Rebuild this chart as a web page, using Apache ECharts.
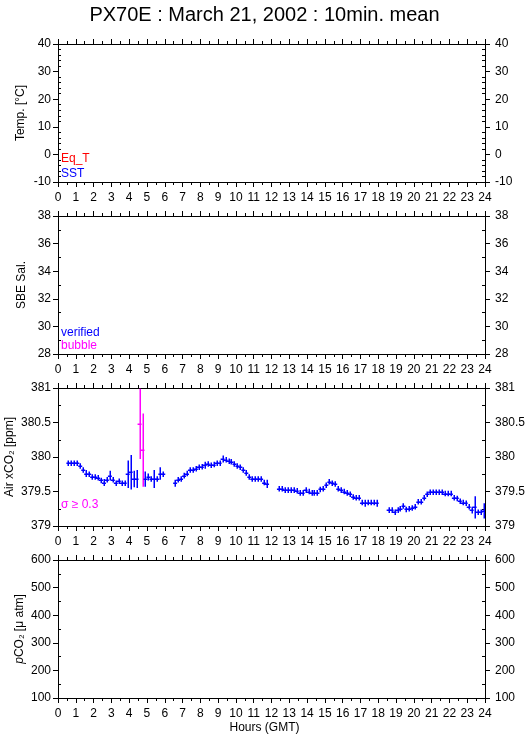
<!DOCTYPE html>
<html><head><meta charset="utf-8">
<script src="https://cdn.jsdelivr.net/npm/echarts@6/dist/echarts.min.js"></script>
<style>html,body{margin:0;padding:0;background:#fff}#c{width:529px;height:739px}</style>
</head><body><div id="c"></div>
<script>
// ---- data ----
const titleText = 'PX70E : March 21, 2002 : 10min. mean';
const xTicks = { min: 0, max: 24, interval: 1 };
const tempTicks = { min: -10, max: 40, interval: 10, minor: 5 };
const salTicks = { min: 28, max: 38, interval: 2, minor: 2 };
const xco2Ticks = { min: 379, max: 381, interval: 0.5, minor: 2 };
const pco2Ticks = { min: 100, max: 600, interval: 100, minor: 2 };

// 10-minute mean times (minutes GMT, interval centres)
const timesMin = [
  35,45,55,65,75,85,95,105,115,125,135,145,155,165,175,185,195,205,215,225,235,245,255,265,275,285,295,305,315,325,335,345,355,
  395,405,415,425,435,445,455,465,475,485,495,505,515,525,535,545,555,565,575,585,595,605,615,625,635,645,655,665,675,685,695,705,
  745,755,765,775,785,795,805,815,825,835,845,855,865,875,885,895,905,915,925,935,945,955,965,975,985,995,1005,1015,1025,1035,1045,1055,1065,1075,
  1115,1125,1135,1145,1155,1165,1175,1185,1195,1205,1215,1225,1235,1245,1255,1265,1275,1285,1295,1305,1315,1325,1335,1345,1355,1365,1375,1385,1395,1405,1415,1425,1435
];
// Air xCO2 [ppm]
const airXco2 = [
  379.91,379.91,379.91,379.91,379.87,379.81,379.76,379.75,379.71,379.71,379.70,379.66,379.63,379.67,379.73,379.67,379.62,379.65,379.62,379.62,379.75,379.78,379.68,379.68,380.48,380.10,379.68,379.71,379.68,379.68,379.68,379.76,379.75,
  379.62,379.67,379.68,379.73,379.76,379.81,379.81,379.83,379.85,379.86,379.88,379.90,379.88,379.89,379.91,379.91,379.97,379.96,379.94,379.93,379.90,379.87,379.85,379.81,379.77,379.71,379.68,379.68,379.68,379.68,379.63,379.61,
  379.54,379.54,379.52,379.52,379.52,379.52,379.51,379.48,379.48,379.52,379.50,379.48,379.48,379.48,379.53,379.54,379.59,379.64,379.62,379.61,379.54,379.52,379.50,379.48,379.46,379.42,379.41,379.41,379.34,379.33,379.34,379.34,379.34,379.33,
  379.23,379.23,379.20,379.23,379.25,379.29,379.24,379.25,379.26,379.28,379.35,379.35,379.41,379.46,379.49,379.49,379.49,379.49,379.49,379.47,379.47,379.47,379.41,379.40,379.36,379.34,379.33,379.28,379.23,379.27,379.20,379.20,379.22
];
// standard deviation [ppm]
const airSigma = [
  0.04,0.04,0.04,0.04,0.04,0.04,0.05,0.04,0.04,0.04,0.04,0.04,0.05,0.04,0.07,0.04,0.04,0.04,0.04,0.04,0.20,0.25,0.12,0.13,0.51,0.53,0.11,0.05,0.04,0.13,0.04,0.09,0.04,
  0.05,0.04,0.04,0.04,0.04,0.04,0.04,0.04,0.04,0.04,0.05,0.04,0.04,0.04,0.04,0.04,0.05,0.04,0.04,0.04,0.04,0.04,0.04,0.04,0.04,0.04,0.04,0.04,0.04,0.04,0.04,0.06,
  0.04,0.04,0.04,0.04,0.04,0.04,0.04,0.04,0.04,0.04,0.04,0.04,0.04,0.04,0.04,0.04,0.04,0.04,0.04,0.04,0.04,0.04,0.04,0.04,0.04,0.04,0.04,0.04,0.04,0.05,0.04,0.04,0.04,0.05,
  0.04,0.04,0.04,0.04,0.04,0.04,0.04,0.04,0.04,0.04,0.04,0.04,0.04,0.04,0.04,0.04,0.04,0.04,0.04,0.04,0.04,0.04,0.04,0.04,0.04,0.04,0.04,0.04,0.05,0.16,0.04,0.04,0.11
];
const sigmaLimit = 0.3;

// ---- chart ----
const FONT = '"Liberation Sans", Helvetica, Arial, sans-serif';
const panelTops = [44, 216, 388, 560];
const panelH = 138;
const panels = [
  { t: tempTicks, name: 'Temp. [°C]', gap: 31 },
  { t: salTicks, name: 'SBE Sal.', gap: 30 },
  { t: xco2Ticks, name: 'Air xCO₂ [ppm]', gap: 42 },
  { t: pco2Ticks, name: '{i|p}CO₂ [μ atm]', gap: 32 }
];
const lineStyle = { color: '#000', width: 1 };
const grids = [], xAxes = [], yAxes = [];
panels.forEach((p, i) => {
  grids.push({ left: 58, right: 44, top: panelTops[i], height: panelH, outerBoundsMode: 'none', containLabel: false });
  ['bottom', 'top'].forEach(pos => {
    xAxes.push({
      type: 'value', gridIndex: i, position: pos, min: xTicks.min, max: xTicks.max, interval: xTicks.interval,
      axisLine: { show: true, onZero: false, lineStyle },
      axisTick: { show: true, length: 5, inside: false, lineStyle },
      minorTick: { show: true, splitNumber: 2, length: 3, lineStyle },
      axisLabel: { show: pos === 'bottom', margin: 10, color: '#000', fontSize: 12, fontFamily: FONT },
      splitLine: { show: false }, minorSplitLine: { show: false }
    });
  });
  ['left', 'right'].forEach(pos => {
    yAxes.push({
      type: 'value', gridIndex: i, position: pos, min: p.t.min, max: p.t.max, interval: p.t.interval,
      name: pos === 'left' ? p.name : '', nameLocation: 'middle', nameGap: p.gap, nameRotate: 90,
      nameMoveOverlap: false,
      nameTextStyle: { color: '#000', fontSize: 12, fontFamily: FONT, rich: { i: { fontStyle: 'italic', fontSize: 12, fontFamily: FONT } } },
      axisLine: { show: true, onZero: false, lineStyle },
      axisTick: { show: true, length: 5, inside: false, lineStyle },
      axisLabel: { show: true, margin: pos === 'left' ? 7 : 10, color: '#000', fontSize: 12, fontFamily: FONT },
      splitLine: { show: false }
    });
    yAxes.push({
      type: 'value', gridIndex: i, position: pos, min: p.t.min, max: p.t.max, interval: p.t.interval,
      axisLine: { show: false, onZero: false },
      axisTick: { show: false, inside: true },
      minorTick: { show: true, splitNumber: p.t.minor, length: 3, lineStyle },
      axisLabel: { show: false },
      splitLine: { show: false }, minorSplitLine: { show: false }
    });
  });
});

const xcoData = timesMin.map((m, j) => [m / 60, airXco2[j], airSigma[j]]);

const legendText = (x, y, text, color) => ({
  type: 'text', left: x, top: y, silent: true,
  style: { text, fill: color, font: '12px ' + FONT }
});

const chart = echarts.init(document.getElementById('c'), null, { renderer: 'canvas' });
chart.setOption({
  backgroundColor: '#fff',
  animation: false,
  title: { text: titleText, left: 'center', top: 0, textStyle: { color: '#000', fontSize: 20, fontWeight: 'normal', fontFamily: FONT } },
  grid: grids, xAxis: xAxes, yAxis: yAxes,
  graphic: [
    legendText(61, 153, 'Eq_T', '#ff0000'),
    legendText(61, 168, 'SST', '#0000ff'),
    legendText(61, 327, 'verified', '#0000ff'),
    legendText(61, 340, 'bubble', '#ff00ff'),
    legendText(61, 499, 'σ ≥ 0.3', '#ff00ff'),
    { type: 'text', left: 'center', top: 722, silent: true, style: { text: 'Hours (GMT)', fill: '#000', font: '12px ' + FONT } }
  ],
  series: [{
    type: 'custom', xAxisIndex: 4, yAxisIndex: 8, clip: true,
    data: xcoData,
    renderItem: function (params, api) {
      const t = api.value(0), v = api.value(1), s = api.value(2);
      const l = api.coord([t - 5 / 60, v]);
      const r = api.coord([t + 5 / 60, v]);
      const a = api.coord([t, v + s]);
      const b = api.coord([t, v - s]);
      const c = s >= sigmaLimit ? '#ff00ff' : '#0000ff';
      const cx = Math.round(a[0]) + 0.25, cy = Math.round(l[1]) + 0.25;
      return { type: 'group', children: [
        { type: 'line', shape: { x1: l[0] - 0.5, y1: cy, x2: r[0] + 0.5, y2: cy }, style: { stroke: c, lineWidth: 1.5 } },
        { type: 'line', shape: { x1: cx, y1: a[1], x2: cx, y2: b[1] }, style: { stroke: c, lineWidth: 1.5 } }
      ] };
    }
  }]
});
</script></body></html>
